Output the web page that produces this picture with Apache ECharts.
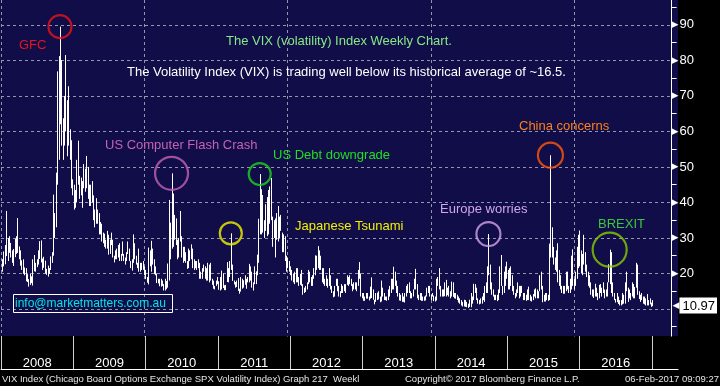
<!DOCTYPE html>
<html><head><meta charset="utf-8">
<script src="https://cdn.jsdelivr.net/npm/echarts@6/dist/echarts.min.js"></script>
<style>html,body{margin:0;padding:0;background:#000}#c{width:720px;height:386px}</style>
</head><body><div id="c"></div>
<script>
// ---- Data: weekly VIX [low, high] per year ----
const vix2008 = [[20.5,24.0],[22.0,26.2],[22.6,28.0],[24.9,37.6],[23.5,30.0],[25.8,30.5],[24.5,28.6],[23.0,26.5],[22.1,26.9],[24.6,29.8],[25.5,30.5],[25.8,35.6],[24.0,27.6],[22.2,26.5],[21.0,23.7],[19.9,24.0],[19.5,21.7],[17.8,21.5],[17.6,19.8],[16.3,18.4],[16.8,20.0],[17.3,19.2],[16.6,24.0],[20.6,25.2],[20.5,23.0],[21.8,24.0],[22.5,26.5],[24.1,29.1],[23.1,29.3],[21.0,24.2],[21.6,24.7],[20.0,23.6],[19.6,21.3],[19.1,22.2],[19.9,21.5],[21.0,24.8],[23.0,26.0],[25.0,42.2],[30.0,37.0],[33.0,48.4],[45.0,76.9],[52.0,81.2],[62.0,89.5],[56.0,80.1],[52.0,63.7],[56.0,70.0],[60.0,81.5],[53.0,68.8],[56.0,72.7],[52.0,60.6],[44.0,57.5],[42.0,46.5]];
const vix2009 = [[38.0,45.0],[38.5,43.5],[40.0,52.0],[45.0,57.4],[41.0,47.5],[42.0,47.0],[38.5,46.0],[44.0,50.8],[43.0,49.5],[44.0,53.1],[41.0,50.0],[39.0,45.0],[39.0,45.0],[40.0,46.0],[35.0,42.0],[33.0,38.0],[34.0,41.2],[34.0,38.0],[31.0,37.0],[31.0,34.5],[29.0,34.0],[28.5,31.5],[27.5,31.2],[27.0,29.5],[27.0,32.0],[25.3,30.9],[25.5,29.5],[28.0,31.5],[24.5,29.5],[23.1,25.0],[24.0,26.5],[24.0,27.0],[24.5,28.0],[23.5,28.5],[23.5,25.5],[25.0,29.0],[23.5,25.5],[22.5,24.5],[23.5,26.0],[25.5,29.0],[23.5,27.0],[21.5,23.5],[20.8,24.0],[23.0,31.0],[24.0,28.5],[22.5,25.0],[21.5,23.0],[20.5,27.0],[20.5,23.0],[21.0,23.0],[21.0,23.5],[19.5,22.0]];
const vix2010 = [[18.4,21.0],[17.4,19.0],[16.9,27.3],[22.0,26.5],[20.5,29.2],[22.5,27.0],[19.8,24.0],[19.5,22.0],[17.3,20.0],[17.2,18.5],[16.4,18.5],[16.3,18.5],[16.5,18.0],[15.2,17.0],[15.2,18.5],[15.6,17.9],[16.0,22.8],[18.0,40.7],[24.0,34.3],[27.0,48.2],[27.5,42.5],[29.5,36.5],[28.0,35.5],[24.0,29.5],[24.5,30.0],[29.0,37.6],[24.5,30.5],[23.0,27.5],[23.5,27.5],[23.0,26.0],[21.3,23.5],[21.5,27.0],[23.5,26.5],[24.0,28.2],[21.5,27.0],[21.0,24.0],[21.5,23.5],[21.0,23.5],[21.5,24.0],[18.5,23.0],[18.5,20.5],[18.5,21.5],[20.5,22.5],[18.5,22.0],[18.0,21.5],[18.0,23.0],[17.5,22.5],[18.0,23.0],[16.8,18.5],[15.7,18.0],[15.5,16.5],[16.5,18.0]];
const vix2011 = [[17.0,19.0],[15.4,17.8],[15.2,19.0],[15.5,20.8],[15.9,20.0],[15.3,16.7],[15.3,16.8],[17.6,23.2],[17.5,21.5],[19.0,23.5],[21.0,31.3],[17.9,22.5],[16.9,18.0],[16.0,17.6],[16.2,18.0],[15.1,18.7],[14.3,15.7],[14.9,19.0],[15.7,18.5],[16.0,18.1],[16.8,19.5],[15.7,18.5],[17.5,19.0],[17.5,22.7],[18.0,22.0],[16.0,20.5],[15.2,17.5],[17.0,22.0],[17.0,20.6],[19.5,25.3],[23.0,35.4],[31.0,48.0],[31.0,43.7],[31.5,42.1],[30.0,35.0],[32.0,39.5],[30.5,41.5],[31.0,43.5],[34.0,44.5],[35.0,46.9],[27.5,36.0],[30.0,35.0],[24.5,35.5],[29.5,37.0],[29.0,39.0],[30.0,36.0],[32.0,36.5],[26.0,31.5],[26.0,31.0],[23.5,30.5],[20.5,25.0],[21.5,24.5]];
const vix2012 = [[20.5,23.5],[19.5,22.0],[18.0,21.0],[17.5,20.0],[17.0,20.5],[17.5,21.5],[17.5,21.5],[16.5,19.0],[16.8,19.9],[16.5,21.0],[14.0,17.0],[14.5,16.0],[14.8,16.5],[15.5,17.5],[17.0,21.0],[17.5,20.5],[16.5,19.0],[16.5,19.5],[18.5,21.5],[19.5,25.1],[21.0,25.0],[21.5,27.7],[21.0,26.5],[21.0,25.0],[17.5,21.5],[17.0,21.5],[16.5,18.5],[16.5,19.5],[16.0,18.5],[16.5,21.5],[15.5,19.5],[14.5,16.5],[13.3,15.0],[13.5,16.5],[16.5,18.5],[15.0,18.5],[13.5,16.5],[13.3,15.0],[14.5,17.0],[14.5,16.5],[15.0,17.0],[14.5,17.0],[16.8,19.5],[16.5,19.0],[17.0,19.5],[16.5,18.5],[15.0,17.0],[15.5,17.5],[15.5,17.5],[15.0,17.5],[16.5,21.0],[18.5,23.2]];
const vix2013 = [[13.5,20.0],[13.0,14.5],[12.3,14.5],[12.3,13.5],[12.9,14.5],[12.9,14.5],[12.4,13.5],[12.9,16.3],[13.1,18.9],[12.6,15.5],[11.3,12.6],[12.0,14.5],[12.5,14.6],[12.7,15.0],[11.9,13.5],[12.1,18.0],[13.5,16.0],[12.5,14.5],[12.5,13.5],[12.3,13.5],[12.5,15.5],[13.5,16.5],[14.5,18.5],[15.5,18.5],[15.5,21.9],[16.5,20.5],[14.5,18.0],[13.5,16.5],[12.4,14.5],[12.3,14.0],[12.0,14.5],[12.0,13.5],[11.8,14.5],[13.5,16.5],[14.5,17.0],[14.5,17.5],[13.0,15.0],[13.0,14.5],[13.5,15.5],[15.5,18.5],[15.5,21.3],[13.0,17.0],[12.5,14.0],[12.5,14.5],[12.3,14.5],[12.3,13.5],[12.3,13.5],[12.4,13.8],[13.5,16.0],[14.5,16.5],[13.5,16.5],[12.5,14.0]];
const vix2014 = [[13.5,14.5],[12.2,13.8],[12.1,13.5],[12.4,18.5],[16.5,19.0],[15.5,21.5],[13.5,16.5],[13.5,15.5],[13.5,15.5],[13.6,17.5],[13.5,18.2],[13.9,16.0],[13.5,16.5],[13.0,15.0],[13.5,17.7],[13.4,17.5],[13.0,14.5],[12.9,14.5],[12.5,14.0],[11.8,13.5],[11.5,13.0],[11.0,12.5],[10.7,12.0],[10.7,12.6],[10.6,12.5],[10.5,12.0],[10.3,11.5],[10.6,12.6],[10.5,14.5],[11.5,13.5],[12.5,17.1],[14.5,17.0],[12.5,16.0],[11.5,13.0],[11.3,12.5],[11.5,13.0],[11.5,13.5],[12.5,14.5],[12.0,16.5],[14.5,17.5],[14.5,22.0],[19.5,31.1],[15.5,22.5],[14.0,17.5],[13.5,15.5],[12.5,14.0],[12.5,14.0],[12.2,14.0],[12.5,15.5],[14.5,22.0],[16.5,25.2],[14.0,16.5]];
const vix2015 = [[14.5,20.5],[16.5,22.0],[18.5,23.3],[15.5,21.0],[15.5,21.5],[16.5,22.0],[15.0,19.5],[14.0,16.5],[13.0,14.5],[13.5,15.5],[14.5,17.5],[13.0,16.5],[13.5,16.5],[14.5,16.5],[12.5,14.5],[12.5,14.5],[12.3,14.0],[12.5,15.5],[12.5,16.3],[12.3,14.0],[12.1,13.5],[12.5,14.2],[13.5,15.5],[13.0,15.8],[13.0,15.5],[13.0,15.0],[15.0,19.5],[15.5,20.5],[11.9,16.5],[12.1,14.0],[12.1,14.5],[12.5,14.5],[12.3,14.0],[12.5,28.4],[24.5,53.3],[24.5,33.0],[22.5,27.5],[21.0,24.5],[20.5,26.5],[17.5,28.5],[16.5,21.0],[15.5,19.5],[14.5,16.5],[14.3,16.5],[14.3,16.5],[15.0,20.5],[15.5,20.5],[14.5,16.5],[14.5,18.5],[15.5,25.0],[16.5,26.8],[15.5,18.5]];
const vix2016 = [[16.5,20.5],[18.5,27.5],[21.5,30.9],[22.0,32.1],[20.0,26.5],[19.5,25.5],[22.5,30.9],[20.5,26.0],[19.0,22.5],[16.5,20.5],[16.0,19.5],[14.0,17.5],[13.5,15.5],[13.1,15.5],[13.5,17.1],[13.5,16.0],[12.5,14.5],[13.0,16.8],[14.5,17.0],[13.5,16.0],[14.5,17.5],[13.0,15.5],[13.5,15.5],[13.5,17.5],[17.5,22.6],[17.0,26.7],[14.5,26.0],[13.5,17.5],[12.5,14.5],[11.8,12.8],[11.9,14.5],[11.4,13.5],[11.0,12.5],[11.0,12.5],[11.3,14.5],[11.5,14.0],[11.5,17.5],[15.0,20.5],[12.0,16.0],[13.0,15.5],[12.5,14.5],[13.5,17.5],[13.0,17.0],[13.0,16.2],[16.0,23.0],[14.0,22.5],[12.8,15.0],[12.0,14.0],[12.5,14.5],[11.5,13.5],[11.3,13.5],[11.0,13.0]];
const vix2017 = [[11.0,14.2],[11.0,12.5],[11.3,13.0],[10.6,11.8],[10.8,12.5]];
const lastClose = 10.97;

const yearLabels = ['2008','2009','2010','2011','2012','2013','2014','2015','2016'];

// annotated events: [year, week index in that year]
const eventLabels = ['GFC','US Computer Flash Crash','Japanese Tsunami','US Debt downgrade','Europe worries','China concerns','BREXIT'];
const eventWeeks = [[2008,42],[2010,19],[2011,10],[2011,31],[2014,41],[2015,34],[2016,25]];

// ---- build ----
const blocks = {2008:vix2008,2009:vix2009,2010:vix2010,2011:vix2011,2012:vix2012,2013:vix2013,2014:vix2014,2015:vix2015,2016:vix2016,2017:vix2017};
const weekX = (yr, i) => yr + (i + 0.8) / 52;
const bars = [];
Object.keys(blocks).forEach(k => blocks[k].forEach((d, i) => bars.push([weekX(+k, i), d[0], d[1]])));

const circleColors = ['#e8141c','#c462b4','#f2f200','#1fd41f','#d2a4ee','#ff5a0a','#8acc00'];
const circleSizes = [23,33,22,22,24,25,34];
const circles = eventWeeks.map((e, i) => ({
  value: [weekX(e[0], e[1]), blocks[e[0]][e[1]][1]],
  symbolSize: circleSizes[i],
  itemStyle: {borderColor: circleColors[i]}
}));

const FONT = 'Liberation Sans, Arial, sans-serif';
const XMAX = 2017.36;
const txt = (text, x, y, fill, size, extra) => Object.assign({
  type: 'text', z: 80,
  style: Object.assign({text, x, y, fill, fontSize: size || 13, fontFamily: FONT, verticalAlign: 'middle'}, extra || {})
});

const chart = echarts.init(document.getElementById('c'), null, {renderer: 'canvas'});
chart.setOption({
  backgroundColor: '#000',
  animation: false,
  grid: [
    {left: 1, top: 0, width: 677, height: 344.5},
    {left: 1, top: 336, width: 677, height: 33}
  ],
  xAxis: [
    {type: 'value', gridIndex: 0, min: 2008, max: XMAX, interval: 2,
     axisLine: {show: false}, axisTick: {show: false}, axisLabel: {show: false},
     splitLine: {show: true, showMaxLine: false, lineStyle: {color: '#9494ae', type: [3, 3], width: 1}}},
    {type: 'value', gridIndex: 1, position: 'top', min: 2008, max: XMAX, interval: 1, z: 60,
     axisLine: {show: true, lineStyle: {color: '#ffffff', width: 1}},
     axisTick: {show: false},
     axisLabel: {show: true, inside: true, margin: 21, customValues: yearLabels.map(y => +y + 0.5),
       formatter: v => String(Math.floor(v)), color: '#ffffff', fontSize: 13, fontFamily: FONT},
     splitLine: {show: true, showMinLine: true, showMaxLine: false, lineStyle: {color: '#cfcfcf', width: 1, type: 'solid'}}}
  ],
  yAxis: [
    {type: 'value', gridIndex: 0, position: 'right', min: 0, max: 97, interval: 10,
     axisLine: {show: true, lineStyle: {color: '#ffffff', width: 1}},
     axisTick: {show: false},
     minorTick: {show: true, splitNumber: 2, length: 5, lineStyle: {color: '#ffffff'}},
     axisLabel: {margin: 0, showMinLabel: false, showMaxLabel: false, color: '#ffffff', fontSize: 13, fontFamily: FONT,
       formatter: v => (Math.abs(v - lastClose) < 4 ? '' : '{t|\u25B6}' + v),
       rich: {t: {fontSize: 9, color: '#ffffff', fontFamily: 'DejaVu Sans', padding: [0, 1, 0, 0]}}},
     splitLine: {show: true, showMinLine: false, showMaxLine: false, lineStyle: {color: '#9494ae', type: [3, 3], width: 1}}},
    {type: 'value', gridIndex: 0, position: 'right', min: 0, max: 97,
     axisLine: {show: false}, axisTick: {show: false}, splitLine: {show: false},
     axisLabel: {margin: 1, customValues: [lastClose],
       formatter: v => '{a|\u25C0}{b|' + v.toFixed(2) + '}',
       rich: {a: {fontSize: 9, color: '#ffffff', fontFamily: 'DejaVu Sans'},
              b: {backgroundColor: '#ffffff', color: '#000000', fontSize: 13, fontFamily: FONT, padding: [2, 2, 1, 3]}}}},
    {type: 'value', gridIndex: 1, show: false, min: 0, max: 1}
  ],
  series: [
    {type: 'custom', xAxisIndex: 0, yAxisIndex: 0, data: bars, z: 3, silent: true,
     encode: {x: 0, y: [1, 2]},
     renderItem: (params, api) => {
       const a = api.coord([api.value(0), api.value(1)]);
       const b = api.coord([api.value(0), api.value(2)]);
       const x = Math.round(a[0]) + 0.5;
       return {type: 'line', shape: {x1: x, y1: a[1], x2: x, y2: b[1]}, style: {stroke: '#ffffff', lineWidth: 1}};
     }},
    {type: 'scatter', xAxisIndex: 0, yAxisIndex: 0, data: circles, z: 5, silent: true,
     symbol: 'circle', itemStyle: {color: 'rgba(0,0,0,0)', borderWidth: 2.2}}
  ],
  graphic: [
    {type: 'rect', z: -10, silent: true, shape: {x: 0, y: 0, width: 678, height: 336}, style: {fill: '#100d48'}},
    {type: 'rect', z: 50, silent: true, shape: {x: 0, y: 336.5, width: 720, height: 10}, style: {fill: '#000000'}},
    txt(eventLabels[0], 19, 45, '#e8141c'),
    txt('The VIX (volatility) Index Weekly Chart.', 226, 41, '#86e886'),
    txt('The Volatility Index (VIX) is trading well below its historical average of ~16.5.', 127, 72, '#ffffff'),
    txt(eventLabels[1], 105, 145, '#c462b4'),
    txt(eventLabels[3], 273, 155, '#22dd22'),
    txt(eventLabels[2], 295, 226, '#f2f200'),
    txt(eventLabels[4], 440, 209, '#cfa6f2'),
    txt(eventLabels[5], 519, 126, '#ff7f1a'),
    txt(eventLabels[6], 598, 224, '#3cc83c'),
    {type: 'rect', z: 80, silent: true, shape: {x: 13.5, y: 294.5, width: 159, height: 18}, style: {fill: 'none', stroke: '#ffffff', lineWidth: 1}},
    txt('info@marketmatters.com.au', 15, 304, '#00e5e5', 12),
    txt('VIX Index (Chicago Board Options Exchange SPX Volatility Index) Graph 217  Weekl', 2, 379, '#e6e6e6', 9.5),
    txt('Copyright\u00A9 2017 Bloomberg Finance L.P.', 405, 379, '#e6e6e6', 9.5),
    txt('06-Feb-2017 09:09:27', 719, 379, '#e6e6e6', 9.5, {align: 'right'})
  ]
});
</script></body></html>
